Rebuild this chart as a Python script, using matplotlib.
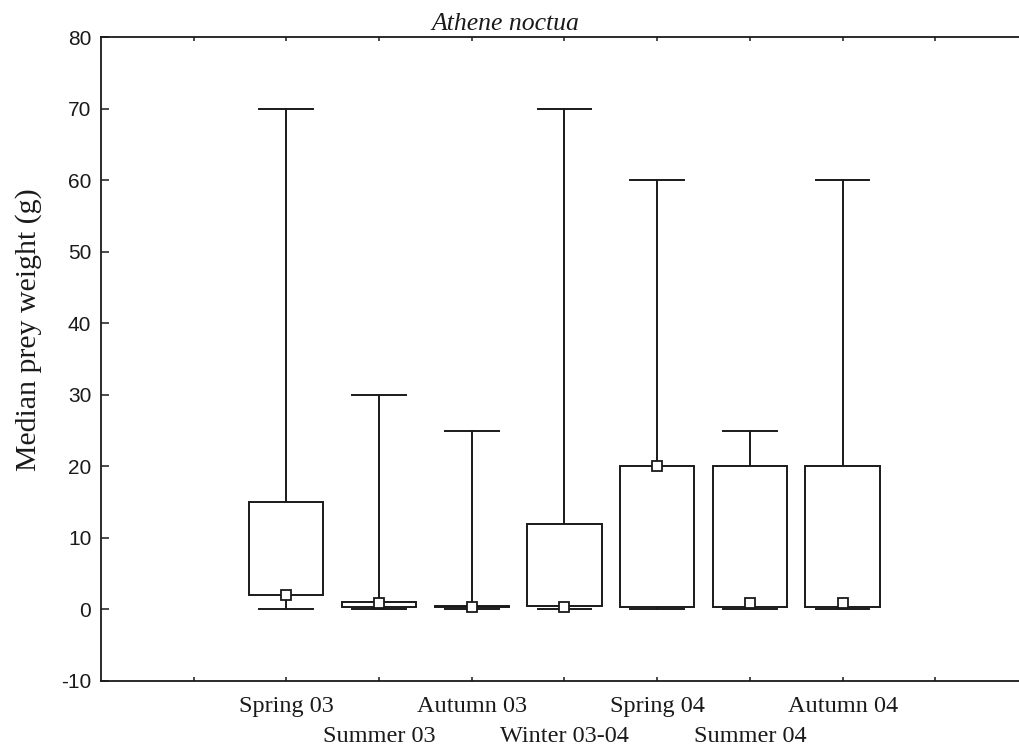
import numpy as np
import matplotlib.pyplot as plt
from matplotlib.patches import Rectangle

# seasons and box statistics (g)
seasons = ['Spring 03', 'Summer 03', 'Autumn 03', 'Winter 03-04',
           'Spring 04', 'Summer 04', 'Autumn 04']
mins = [0, 0, 0.1, 0.1, 0.1, 0.1, 0.1]
q1 = [2, 0.4, 0.3, 0.5, 0.4, 0.4, 0.4]
medians = [2, 0.9, 0.3, 0.3, 20, 0.9, 0.9]
q3 = [15, 1.0, 0.5, 12, 20, 20, 20]
maxs = [70, 30, 25, 70, 60, 25, 60]

serif = 'Liberation Serif'
sans = 'Liberation Sans'
lc = '#1a1a1a'

fig = plt.figure(figsize=(10.19, 7.49), dpi=100)
# axes runs a bit past the right edge, as in the original crop
ax = fig.add_axes([0.0991, 0.0908, 0.9097, 0.8598])

pos = np.arange(1, len(seasons) + 1)
box_w = 0.8
cap_w = 0.58
for x, lo, a, b, hi in zip(pos, mins, q1, q3, maxs):
    ax.plot([x, x], [lo, a], color=lc, lw=1.4, zorder=2)
    ax.plot([x, x], [b, hi], color=lc, lw=1.4, zorder=2)
    ax.plot([x - cap_w / 2, x + cap_w / 2], [lo, lo], color=lc, lw=1.4, zorder=2)
    ax.plot([x - cap_w / 2, x + cap_w / 2], [hi, hi], color=lc, lw=1.4, zorder=2)
    ax.add_patch(Rectangle((x - box_w / 2, a), box_w, b - a, facecolor='white',
                           edgecolor=lc, lw=1.4, zorder=3))
ax.plot(pos, medians, 's', mfc='white', mec=lc, ms=7.5, mew=1.3, zorder=5)

ax.set_xlim(-1, 9)
ax.set_ylim(-10, 80)
ax.set_yticks(np.arange(-10, 81, 10))
ax.set_yticklabels([str(v) for v in range(-10, 81, 10)], fontfamily=sans, fontsize=15)

# labels alternate between two rows: odd seasons on major ticks, the rest on minor ticks
row1 = [0] + [p for p in pos if p % 2 == 1] + [8]
row2 = [p for p in pos if p % 2 == 0]
ax.set_xticks(row1)
ax.set_xticklabels([''] + [seasons[p - 1] for p in row1[1:-1]] + [''],
                   fontfamily=serif, fontsize=17.5)
ax.set_xticks(row2, minor=True)
ax.set_xticklabels([seasons[p - 1] for p in row2], minor=True,
                   fontfamily=serif, fontsize=17.5)

ax.tick_params(axis='x', which='both', direction='in', length=3, width=1.1, top=True,
               colors=lc)
ax.tick_params(axis='x', which='major', pad=10.5)
ax.tick_params(axis='x', which='minor', pad=32.5)
ax.tick_params(axis='y', direction='in', length=6, width=1.1, right=True, pad=7, colors=lc)
for s in ax.spines.values():
    s.set_linewidth(1.3)
    s.set_color(lc)

ax.set_ylabel('Median prey weight (g)', fontfamily=serif, fontsize=21.5, color=lc)
ax.yaxis.set_label_coords(-0.064, 0.545)

fig.text(0.4956, 0.96, 'Athene noctua', fontfamily=serif, style='italic',
         fontsize=18.5, ha='center', va='baseline', color=lc)

fig.savefig('out.png', dpi=100)
